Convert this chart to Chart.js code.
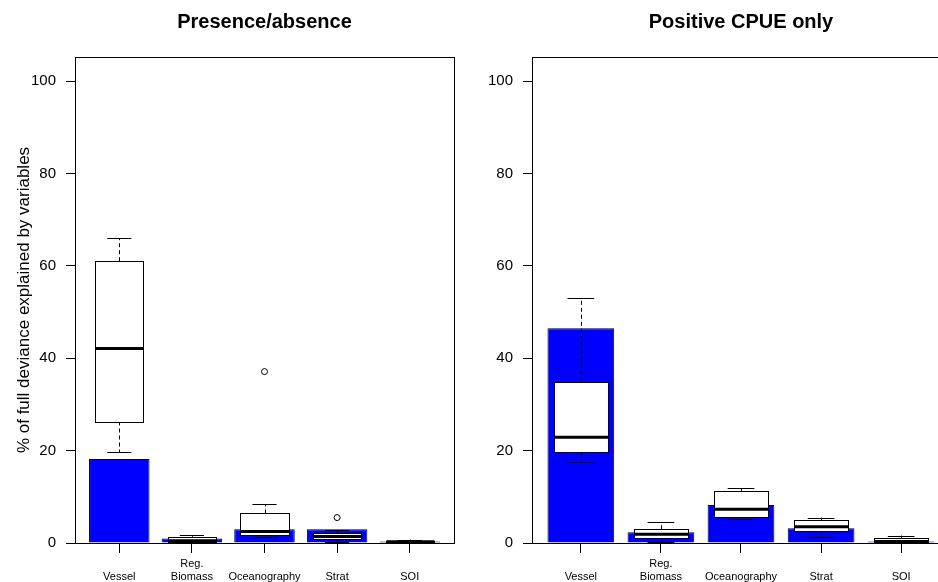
<!DOCTYPE html>
<html>
<head>
<meta charset="utf-8">
<script src="https://cdn.jsdelivr.net/npm/chart.js@4/dist/chart.umd.min.js"></script>
<style>
  html, body { margin: 0; padding: 0; background: #fff; overflow: hidden; width: 938px; height: 582px; }
  canvas { position: absolute; top: 0; }
  #left { left: 0; }
  #right { left: 470px; }
</style>
</head>
<body>
<canvas id="left" width="470" height="582"></canvas>
<canvas id="right" width="490" height="582"></canvas>
<script>
// Model terms shown along the x axis (two text lines each)
const categoryLines = [['', 'Vessel'], ['Reg.', 'Biomass'], ['', 'Oceanography'], ['', 'Strat'], ['', 'SOI']];
const yTicks = [0, 20, 40, 60, 80, 100];

// Presence/absence model: % of full deviance (bar = full-data fit, box = resampled fits)
const presenceBars     = [18.2, 1.0, 3.0, 3.0, 0.35];
const presenceLow      = [19.6, 0.1, 1.4, 0.3, 0.0];
const presenceQ1       = [26.3, 0.3, 1.8, 0.8, 0.1];
const presenceMedian   = [42.1, 0.5, 2.5, 1.4, 0.25];
const presenceQ3       = [61.0, 1.35, 6.4, 2.1, 0.45];
const presenceHigh     = [66.0, 1.65, 8.4, 2.8, 0.75];
const presenceOutliers = [[], [], [37.1], [5.5], []];

// Positive-catch (CPUE) model
const cpueBars     = [46.5, 2.3, 8.2, 3.2, 0.3];
const cpueLow      = [17.5, 0.3, 5.3, 1.4, 0.0];
const cpueQ1       = [19.8, 1.0, 5.7, 2.6, 0.1];
const cpueMedian   = [22.9, 1.9, 7.3, 3.5, 0.3];
const cpueQ3       = [34.9, 3.0, 11.2, 4.9, 1.0];
const cpueHigh     = [53.0, 4.5, 11.8, 5.5, 1.6];
const cpueOutliers = [[], [], [], [], []];

const FONT = "'Liberation Sans', Arial, Helvetica, sans-serif";
const X_MIN = -0.61, X_MAX = 4.61, Y_MAX = 105.2;
const BOX_HALF = 0.8 / 1.2 / 2;   // boxwex relative to bar spacing
const STAPLE_HALF = BOX_HALF / 2;

function boxPlugin(title, stats) {
  return {
    id: 'boxOverlay',
    afterDatasetsDraw(chart) {
      const ctx = chart.ctx, xs = chart.scales.x, ys = chart.scales.y;
      ctx.save();
      ctx.strokeStyle = '#000';
      for (let i = 0; i < stats.median.length; i++) {
        const cx = xs.getPixelForValue(i);
        const bl = xs.getPixelForValue(i - BOX_HALF), br = xs.getPixelForValue(i + BOX_HALF);
        const sl = xs.getPixelForValue(i - STAPLE_HALF), sr = xs.getPixelForValue(i + STAPLE_HALF);
        const yLo = ys.getPixelForValue(stats.low[i]);
        const yQ1 = ys.getPixelForValue(stats.q1[i]);
        const yMd = ys.getPixelForValue(stats.median[i]);
        const yQ3 = ys.getPixelForValue(stats.q3[i]);
        const yHi = ys.getPixelForValue(stats.high[i]);
        const xc = Math.round(cx) + 0.5;
        // whiskers
        ctx.lineWidth = 1;
        ctx.setLineDash([4, 3]);
        ctx.beginPath();
        ctx.moveTo(xc, yQ3); ctx.lineTo(xc, yHi);
        ctx.moveTo(xc, yQ1); ctx.lineTo(xc, yLo);
        ctx.stroke();
        ctx.setLineDash([]);
        // staples
        ctx.beginPath();
        ctx.moveTo(sl, Math.round(yHi) + 0.5); ctx.lineTo(sr, Math.round(yHi) + 0.5);
        ctx.moveTo(sl, Math.round(yLo) + 0.5); ctx.lineTo(sr, Math.round(yLo) + 0.5);
        ctx.stroke();
        // box
        const top = Math.round(yQ3) + 0.5, bot = Math.round(yQ1) + 0.5;
        const l = Math.round(bl) + 0.5, r = Math.round(br) + 0.5;
        ctx.fillStyle = '#fff';
        ctx.fillRect(l, top, r - l, bot - top);
        ctx.strokeRect(l, top, r - l, bot - top);
        // median
        ctx.lineWidth = 3;
        ctx.beginPath();
        ctx.moveTo(l, yMd); ctx.lineTo(r, yMd);
        ctx.stroke();
        // outliers
        ctx.lineWidth = 1;
        for (const o of stats.outliers[i]) {
          ctx.beginPath();
          ctx.arc(cx, ys.getPixelForValue(o), 3, 0, Math.PI * 2);
          ctx.fillStyle = '#fff';
          ctx.fill();
          ctx.stroke();
        }
      }
      ctx.restore();
    },
    afterDraw(chart) {
      const ctx = chart.ctx, a = chart.chartArea;
      ctx.save();
      ctx.strokeStyle = '#000';
      ctx.lineWidth = 1;
      ctx.strokeRect(Math.round(a.left) + 0.5, Math.round(a.top) + 0.5,
                     Math.round(a.right - a.left), Math.round(a.bottom - a.top));
      ctx.fillStyle = '#000';
      ctx.font = 'bold 20px ' + FONT;
      ctx.textAlign = 'center';
      ctx.textBaseline = 'middle';
      ctx.fillText(title, (a.left + a.right) / 2, 22);
      ctx.restore();
    }
  };
}

function makePanel(id, title, bars, stats, yAxisWidth, padRight, showYTitle) {
  return new Chart(document.getElementById(id), {
    type: 'bar',
    data: {
      datasets: [{
        data: bars.map((v, i) => ({ x: i, y: v })),
        backgroundColor: '#0000ff',
        borderColor: '#000',
        borderWidth: 1,
        barPercentage: 1 / 1.2,
        categoryPercentage: 1
      }]
    },
    options: {
      responsive: false,
      animation: false,
      devicePixelRatio: 1,
      layout: { padding: { top: 57, right: padRight, left: 0, bottom: 0 } },
      plugins: { legend: { display: false }, tooltip: { enabled: false }, title: { display: false } },
      scales: {
        x: {
          type: 'linear',
          offset: false,
          min: X_MIN, max: X_MAX,
          afterBuildTicks: s => { s.ticks = categoryLines.map((_, i) => ({ value: i })); },
          afterFit: s => { s.height = 39; },
          ticks: {
            callback: v => categoryLines[v] || '',
            autoSkip: false, maxRotation: 0, minRotation: 0,
            color: '#000', padding: 4,
            font: { family: FONT, size: 11, lineHeight: 1.18 }
          },
          grid: { drawOnChartArea: false, drawTicks: true, tickLength: 10, color: '#000', offset: false },
          border: { display: false }
        },
        y: {
          min: 0, max: Y_MAX,
          afterBuildTicks: s => { s.ticks = yTicks.map(v => ({ value: v })); },
          afterFit: s => { s.width = yAxisWidth; },
          ticks: { color: '#000', padding: 10, font: { family: FONT, size: 15 } },
          grid: { drawOnChartArea: false, drawTicks: true, tickLength: 9, color: '#000' },
          border: { display: false },
          title: {
            display: showYTitle,
            text: '% of full deviance explained by variables',
            color: '#000',
            padding: { top: 14, bottom: 0 },
            font: { family: FONT, size: 17, lineHeight: 1.2 }
          }
        }
      }
    },
    plugins: [boxPlugin(title, stats)]
  });
}

makePanel('left', 'Presence/absence', presenceBars, {
  low: presenceLow, q1: presenceQ1, median: presenceMedian, q3: presenceQ3,
  high: presenceHigh, outliers: presenceOutliers
}, 75, 16, true);

makePanel('right', 'Positive CPUE only', cpueBars, {
  low: cpueLow, q1: cpueQ1, median: cpueMedian, q3: cpueQ3,
  high: cpueHigh, outliers: cpueOutliers
}, 62, 10, false);
</script>
</body>
</html>
